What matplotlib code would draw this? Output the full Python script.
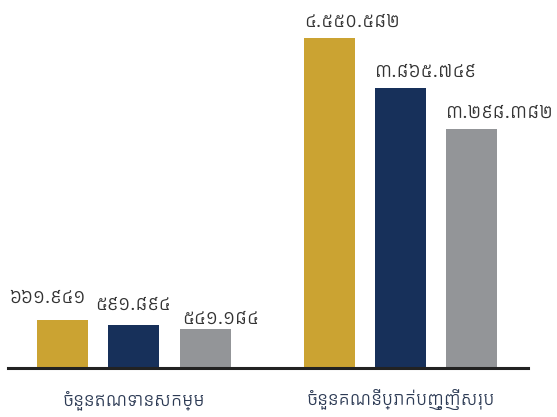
import matplotlib
matplotlib.use('Agg')
import matplotlib.pyplot as plt

# data
categories = ['ចំនួនឥណទានសកម្ម', 'ចំនួនគណនីប្រាក់បញ្ញើសរុប']
series_a = [661941, 4550582]
series_b = [591894, 3865749]
series_c = [541184, 3298382]
labels_a = ['៦៦១.៩៤១', '៤.៥៥០.៥៨២']
labels_b = ['៥៩១.៨៩៤', '៣.៨៦៥.៧៤៩']
labels_c = ['៥៤១.១៨៤', '៣.២៩៨.៣៨២']

colors = ['#CBA332', '#17305A', '#939598']

plt.rcParams['font.family'] = ['Kantumruy Pro', 'DejaVu Sans']

W, H = 557, 417
fig = plt.figure(figsize=(W / 100, H / 100), dpi=100)
# baseline at y=368 px, axis line from x=8 to x=528
ax = fig.add_axes([8 / W, (H - 368) / H, 520 / W, 368 / H])

step = 0.266
width = 0.19
x = [0.005, 1]
ymax = series_a[1] * 368 / 330

all_series = [(series_a, labels_a), (series_b, labels_b), (series_c, labels_c)]
# label offsets in pixels from the bar's top-left corner (x, baseline above top)
label_offsets = [[(-28, 17), (0, 11)], [(-13, 15), (0, 11)], [(2, 5), (0, 11)]]

for k, (vals, labs) in enumerate(all_series):
    pos = [xi + (k - 1) * step for xi in x]
    ax.bar(pos, vals, width=width, color=colors[k], zorder=2)
    for i in range(len(pos)):
        dx, dy = label_offsets[k][i]
        ax.annotate(labs[i], (pos[i] - width / 2, vals[i]),
                    xytext=(dx, dy), textcoords='offset pixels',
                    ha='left', va='baseline', fontsize=14, color='#333333')

ax.set_xlim(-0.465, 1.476)
ax.set_ylim(0, ymax)
for s in ['top', 'right', 'left']:
    ax.spines[s].set_visible(False)
ax.spines['bottom'].set_linewidth(2.2)
ax.spines['bottom'].set_color('#222222')
ax.set_yticks([])
ax.set_xticks(x)
ax.set_xticklabels(categories, fontsize=13, color='#2d3b55', va='center')
ax.tick_params(axis='x', length=0, pad=23)

fig.savefig('out.png', dpi=100)
